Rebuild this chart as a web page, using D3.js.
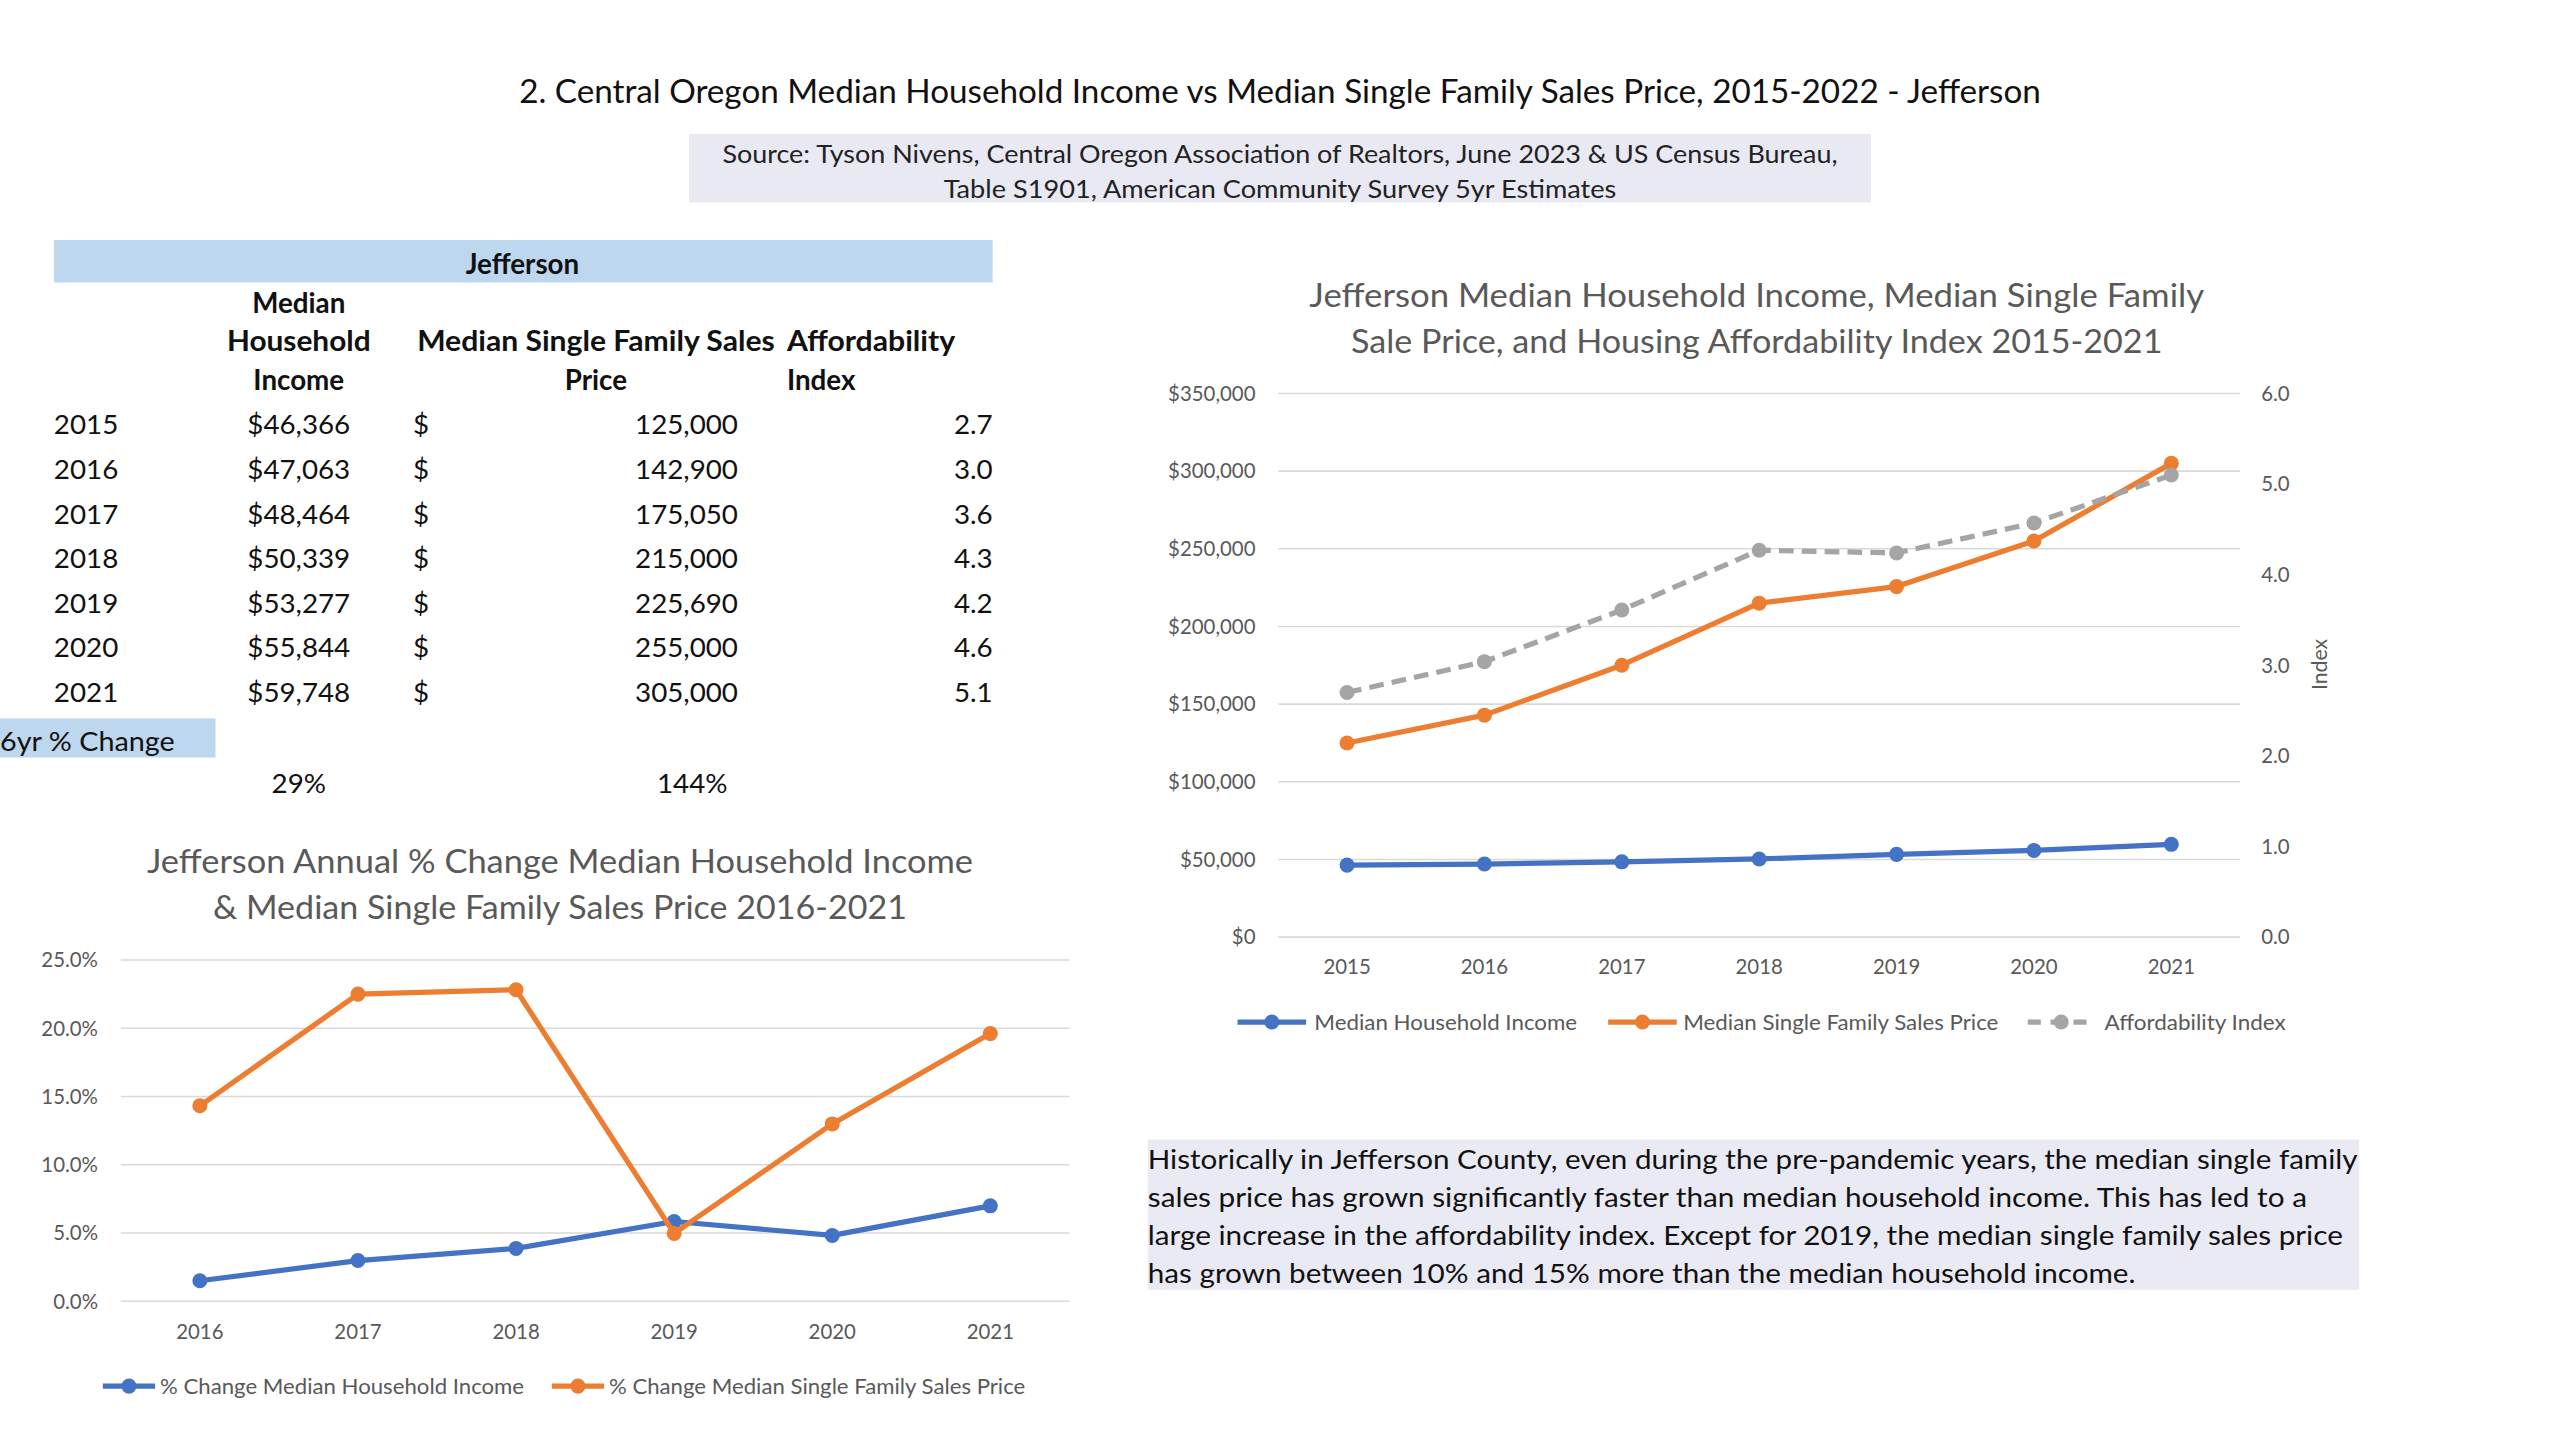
<!DOCTYPE html>
<html><head><meta charset="utf-8">
<script src="https://cdn.jsdelivr.net/npm/d3@7"></script>
<style>html,body{margin:0;padding:0;background:#fff;} svg{display:block;}</style>
</head><body>
<svg id="c" width="2560" height="1440" viewBox="0 0 1568 882"></svg>
<script>
// ---------- DATA ----------
const years = [2015, 2016, 2017, 2018, 2019, 2020, 2021];
const income = [46366, 47063, 48464, 50339, 53277, 55844, 59748];
const price = [125000, 142900, 175050, 215000, 225690, 255000, 305000];
const affordIndex = [2.70, 3.04, 3.61, 4.27, 4.24, 4.57, 5.10];
const sixYrChange = ["29%", "144%"];

const changeYears = [2016, 2017, 2018, 2019, 2020, 2021];
const incomeChange = [1.50, 2.98, 3.87, 5.84, 4.82, 6.99];
const priceChange = [14.32, 22.50, 22.82, 4.97, 12.99, 19.61];

const leftTicks = [0, 50000, 100000, 150000, 200000, 250000, 300000, 350000];
const rightTicks = [0, 1, 2, 3, 4, 5, 6];
const pctTicks = [0, 5, 10, 15, 20, 25];

const mainTitle = "2. Central Oregon Median Household Income vs Median Single Family Sales Price, 2015-2022 - Jefferson";
const sourceLines = ["Source: Tyson Nivens, Central Oregon Association of Realtors, June 2023 & US Census Bureau,",
                     "Table S1901, American Community Survey 5yr Estimates"];
const rightTitle = ["Jefferson Median Household Income, Median Single Family", "Sale Price, and Housing Affordability Index 2015-2021"];
const leftTitle = ["Jefferson Annual % Change Median Household Income", "& Median Single Family Sales Price 2016-2021"];
const rightLegend = ["Median Household Income", "Median Single Family Sales Price", "Affordability Index"];
const leftLegend = ["% Change Median Household Income", "% Change Median Single Family Sales Price"];
const noteLines = [
  "Historically in Jefferson County, even during the pre-pandemic years, the median single family",
  "sales price has grown significantly faster than median household income. This has led to a",
  "large increase in the affordability index. Except for 2019, the median single family sales price",
  "has grown between 10% and 15% more than the median household income."
];

// ---------- STYLE ----------
const F = "Lato, 'Open Sans', sans-serif";
const BLUE = "#4472c4", ORANGE = "#ed7d31", GRAY = "#a5a5a5", GRID = "#d9d9d9", AX = "#595959";
const svg = d3.select("#c");

function T(parent, x, y, str, o = {}) {
  const t = parent.append("text").attr("x", x).attr("y", y + 1)
    .attr("font-family", F).attr("font-size", o.size || 16)
    .attr("text-anchor", o.anchor || "start")
    .attr("font-weight", o.weight || "normal")
    .attr("fill", o.fill || "#111").text(str);
  if (o.width) t.attr("textLength", o.width).attr("lengthAdjust", "spacingAndGlyphs");
  return t;
}

// ---------- HEADER ----------
T(svg, 784, 62, mainTitle, {size: 20, anchor: "middle", width: 932});
svg.append("rect").attr("x", 422).attr("y", 82).attr("width", 724).attr("height", 42).attr("fill", "#e9e9f4");
T(svg, 784, 99, sourceLines[0], {size: 15.5, anchor: "middle", width: 683, fill: "#222"});
T(svg, 784, 120, sourceLines[1], {size: 15.5, anchor: "middle", width: 412, fill: "#222"});

// ---------- TABLE ----------
const tbl = svg.append("g");
tbl.append("rect").attr("x", 33).attr("y", 147).attr("width", 575).attr("height", 26).attr("fill", "#bdd7ee");
T(tbl, 320, 167, "Jefferson", {size: 17, anchor: "middle", weight: "bold"});
T(tbl, 183, 191, "Median", {size: 17, anchor: "middle", weight: "bold"});
T(tbl, 183, 214, "Household", {size: 17, anchor: "middle", weight: "bold", width: 88});
T(tbl, 183, 238, "Income", {size: 17, anchor: "middle", weight: "bold"});
T(tbl, 365, 214, "Median Single Family Sales", {size: 17, anchor: "middle", weight: "bold", width: 219});
T(tbl, 365, 238, "Price", {size: 17, anchor: "middle", weight: "bold"});
T(tbl, 482, 214, "Affordability", {size: 17, weight: "bold", width: 103});
T(tbl, 482, 238, "Index", {size: 17, weight: "bold"});
const rowY = d3.scaleLinear().domain([0, 6]).range([265, 429]);
const fmtInc = d3.format("$,"), fmtPrice = d3.format(","), fmtIdx = d3.format(".1f");
years.forEach((yr, i) => {
  const y = rowY(i);
  T(tbl, 33, y, String(yr), {size: 17});
  T(tbl, 183, y, fmtInc(income[i]), {size: 17, anchor: "middle"});
  T(tbl, 253, y, "$", {size: 17});
  T(tbl, 452, y, fmtPrice(price[i]), {size: 17, anchor: "end"});
  T(tbl, 608, y, fmtIdx(affordIndex[i]), {size: 17, anchor: "end"});
});
tbl.append("rect").attr("x", 0).attr("y", 440).attr("width", 132).attr("height", 24).attr("fill", "#bdd7ee");
T(tbl, 0, 459, "6yr % Change", {size: 17, width: 107});
T(tbl, 183, 485, sixYrChange[0], {size: 17, anchor: "middle"});
T(tbl, 424, 485, sixYrChange[1], {size: 17, anchor: "middle"});

// ---------- RIGHT CHART ----------
const rc = svg.append("g");
T(rc, 1076, 187, rightTitle[0], {size: 20, anchor: "middle", width: 548, fill: AX});
T(rc, 1076, 215, rightTitle[1], {size: 20, anchor: "middle", width: 497, fill: AX});
const xR = d3.scaleBand().domain(years).range([783, 1372]);
const yL = d3.scaleLinear().domain([0, 350000]).range([574, 241]);
const yI = d3.scaleLinear().domain([0, 6]).range([574, 241]);
rc.append("g").selectAll("line").data(leftTicks).join("line")
  .attr("x1", 783).attr("x2", 1372).attr("y1", d => yL(d)).attr("y2", d => yL(d))
  .attr("stroke", GRID).attr("stroke-width", 1);
function styleAxis(g, size) {
  g.select(".domain").remove();
  g.selectAll("line").remove();
  g.selectAll("text").attr("font-family", F).attr("font-size", size).attr("fill", AX);
}
rc.append("g").attr("transform", "translate(783,0)")
  .call(d3.axisLeft(yL).tickValues(leftTicks).tickFormat(d3.format("$,")).tickSize(0).tickPadding(14))
  .call(g => styleAxis(g, 12.5));
rc.append("g").attr("transform", "translate(1372,0)")
  .call(d3.axisRight(yI).tickValues(rightTicks).tickFormat(d3.format(".1f")).tickSize(0).tickPadding(13))
  .call(g => styleAxis(g, 12.5));
rc.append("g").attr("transform", "translate(0,574)")
  .call(d3.axisBottom(xR).tickSize(0).tickPadding(14))
  .call(g => styleAxis(g, 12.5));
rc.append("text").attr("transform", "translate(1425,407) rotate(-90)")
  .attr("text-anchor", "middle").attr("font-family", F).attr("font-size", 13).attr("fill", AX).text("Index");

const cxR = d => xR(d) + xR.bandwidth() / 2;
function series(g, xs, xf, vals, yf, color, dash) {
  const pts = xs.map((x, i) => [xf(x), yf(vals[i])]);
  g.append("path").attr("d", d3.line()(pts)).attr("fill", "none").attr("stroke", color)
    .attr("stroke-width", 3.2).attr("stroke-linejoin", "round").attr("stroke-linecap", dash ? "butt" : "round")
    .attr("stroke-dasharray", dash || null);
  g.append("g").selectAll("circle").data(pts).join("circle")
    .attr("cx", d => d[0]).attr("cy", d => d[1]).attr("r", 4.6).attr("fill", color);
}
series(rc, years, cxR, income, yL, BLUE);
series(rc, years, cxR, price, yL, ORANGE);
series(rc, years, cxR, affordIndex, yI, GRAY, "9,5");

function legendItem(g, x1, x2, y, color, dash, label, tx, width, size) {
  g.append("line").attr("x1", x1).attr("x2", x2).attr("y1", y).attr("y2", y)
    .attr("stroke", color).attr("stroke-width", 3.2).attr("stroke-dasharray", dash || null);
  g.append("circle").attr("cx", (x1 + x2) / 2).attr("cy", y).attr("r", 4.6).attr("fill", color);
  T(g, tx, y + 4, label, {size: size, fill: AX, width: width});
}
legendItem(rc, 758, 800, 626, BLUE, null, rightLegend[0], 805, 161, 13.5);
legendItem(rc, 985, 1027, 626, ORANGE, null, rightLegend[1], 1031, 193, 13.5);
legendItem(rc, 1242, 1283, 626, GRAY, "8,6", rightLegend[2], 1289, 111, 13.5);

// ---------- BOTTOM-LEFT CHART ----------
const lc = svg.append("g");
T(lc, 343, 534, leftTitle[0], {size: 20, anchor: "middle", width: 506, fill: AX});
T(lc, 343, 562, leftTitle[1], {size: 20, anchor: "middle", width: 425, fill: AX});
const xC = d3.scaleBand().domain(changeYears).range([74, 655]);
const yC = d3.scaleLinear().domain([0, 25]).range([797, 588]);
lc.append("g").selectAll("line").data(pctTicks).join("line")
  .attr("x1", 74).attr("x2", 655).attr("y1", d => yC(d)).attr("y2", d => yC(d))
  .attr("stroke", GRID).attr("stroke-width", 1);
lc.append("g").attr("transform", "translate(74,0)")
  .call(d3.axisLeft(yC).tickValues(pctTicks).tickFormat(d => d3.format(".1f")(d) + "%").tickSize(0).tickPadding(14))
  .call(g => styleAxis(g, 12.5));
lc.append("g").attr("transform", "translate(0,797)")
  .call(d3.axisBottom(xC).tickSize(0).tickPadding(14))
  .call(g => styleAxis(g, 12.5));
const cxC = d => xC(d) + xC.bandwidth() / 2;
series(lc, changeYears, cxC, incomeChange, yC, BLUE);
series(lc, changeYears, cxC, priceChange, yC, ORANGE);
legendItem(lc, 63, 95, 849, BLUE, null, leftLegend[0], 98, 223, 13);
legendItem(lc, 338, 370, 849, ORANGE, null, leftLegend[1], 373, 255, 13);

// ---------- NOTE BOX ----------
svg.append("rect").attr("x", 703).attr("y", 698).attr("width", 742).attr("height", 92).attr("fill", "#eaeaf4");
const noteW = [742, 711, 733, 606];
noteLines.forEach((s, i) => T(svg, 703, 715 + i * 23.3, s, {size: 17, width: noteW[i] - 1, fill: "#111"}));
</script>
</body></html>
